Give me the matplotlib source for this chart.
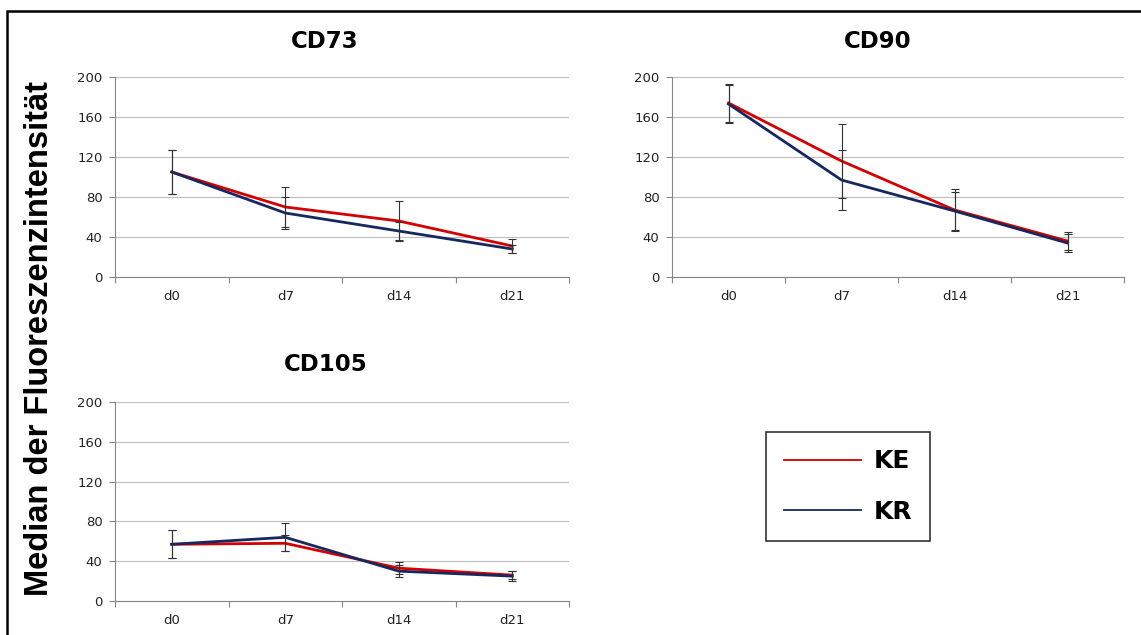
import matplotlib
matplotlib.use("Agg")
import matplotlib.pyplot as plt
from matplotlib.lines import Line2D
from matplotlib.patches import Rectangle

plt.rcParams['font.family'] = ['DejaVu Sans']

days = ["d0", "d7", "d14", "d21"]
y_ticks = [0, 40, 80, 120, 160, 200]

# CD73
cd73_ke = [105, 70, 56, 31]
cd73_ke_err = [22, 20, 20, 7]
cd73_kr = [105, 64, 46, 28]
cd73_kr_err = [22, 16, 9, 4]

# CD90
cd90_ke = [174, 116, 67, 36]
cd90_ke_err = [19, 37, 21, 9]
cd90_kr = [173, 97, 66, 34]
cd90_kr_err = [19, 30, 19, 9]

# CD105
cd105_ke = [57, 58, 33, 26]
cd105_ke_err = [14, 8, 6, 4]
cd105_kr = [57, 64, 30, 25]
cd105_kr_err = [14, 14, 6, 5]

panels = [
    ("CD73", cd73_ke, cd73_ke_err, cd73_kr, cd73_kr_err),
    ("CD90", cd90_ke, cd90_ke_err, cd90_kr, cd90_kr_err),
    ("CD105", cd105_ke, cd105_ke_err, cd105_kr, cd105_kr_err),
]

KE_COLOR = "#d40000"
KR_COLOR = "#16285f"
W, H = 1141, 635

# axes boxes in pixels: left, top, right, bottom
boxes = [(115, 77, 569, 277), (672, 77, 1124, 277), (115, 402, 569, 601)]
title_pos = [(325, 41), (878, 41), (326, 364)]

fig = plt.figure(figsize=(W / 100, H / 100), dpi=100)

for (name, ke, ke_err, kr, kr_err), (l, t, r, b), (tx, ty) in zip(panels, boxes, title_pos):
    ax = fig.add_axes([l / W, 1 - b / H, (r - l) / W, (b - t) / H])
    x = range(len(days))
    ax.plot(x, ke, color=KE_COLOR, lw=2.0, zorder=3)
    ax.plot(x, kr, color=KR_COLOR, lw=2.0, zorder=4)
    ax.errorbar(x, ke, yerr=ke_err, fmt="none", ecolor="#333333", elinewidth=0.8,
                capsize=3, capthick=0.8, zorder=5)
    ax.errorbar(x, kr, yerr=kr_err, fmt="none", ecolor="#333333", elinewidth=0.8,
                capsize=3, capthick=0.8, zorder=5)

    ax.set_xlim(-0.5, len(days) - 0.5)
    ax.set_ylim(0, 200)
    ax.set_yticks(y_ticks)
    ax.set_xticks(list(x))
    ax.set_xticklabels(days)
    ax.set_xticks([i - 0.5 for i in range(len(days) + 1)], minor=True)
    ax.tick_params(axis="x", which="major", length=0, pad=9, labelsize=9.5, colors="#222222")
    ax.tick_params(axis="x", which="minor", length=4, color="#868686", width=0.8)
    ax.tick_params(axis="y", length=4, color="#868686", width=0.8, pad=5,
                   labelsize=9.5, labelcolor="#222222")
    ax.grid(axis="y", color="#bdbdbd", lw=0.8)
    ax.set_axisbelow(True)
    for s in ["top", "right"]:
        ax.spines[s].set_visible(False)
    for s in ["left", "bottom"]:
        ax.spines[s].set_color("#868686")
        ax.spines[s].set_linewidth(0.8)

    fig.text(tx / W, 1 - ty / H, name, ha="center", va="center",
             fontsize=16.5, fontweight="bold")

fig.text(40 / W, 1 - 339 / H, "Median der Fluoreszenzintensität", rotation=90,
         ha="center", va="center", fontsize=23.5, fontweight="bold",
         family=["Liberation Sans", "DejaVu Sans"])

handles = [Line2D([], [], color=KE_COLOR, lw=1.3), Line2D([], [], color=KR_COLOR, lw=1.3)]
leg = fig.legend(handles, ["KE", "KR"], loc="upper left",
                 bbox_to_anchor=(766 / W, 1 - 432 / H), frameon=True, fancybox=False,
                 edgecolor="black", prop={"weight": "bold", "size": 18},
                 handlelength=3.1, handletextpad=0.5, labelspacing=1.05,
                 borderpad=0.7, borderaxespad=0)
leg.get_frame().set_linewidth(1.2)

# outer frame of the figure
fig.add_artist(Rectangle((7 / W, -0.1), 1.2, 1.1 - 11 / H, transform=fig.transFigure,
                         fill=False, edgecolor="black", lw=1.8))

fig.savefig("out.png", dpi=100, facecolor="white")
